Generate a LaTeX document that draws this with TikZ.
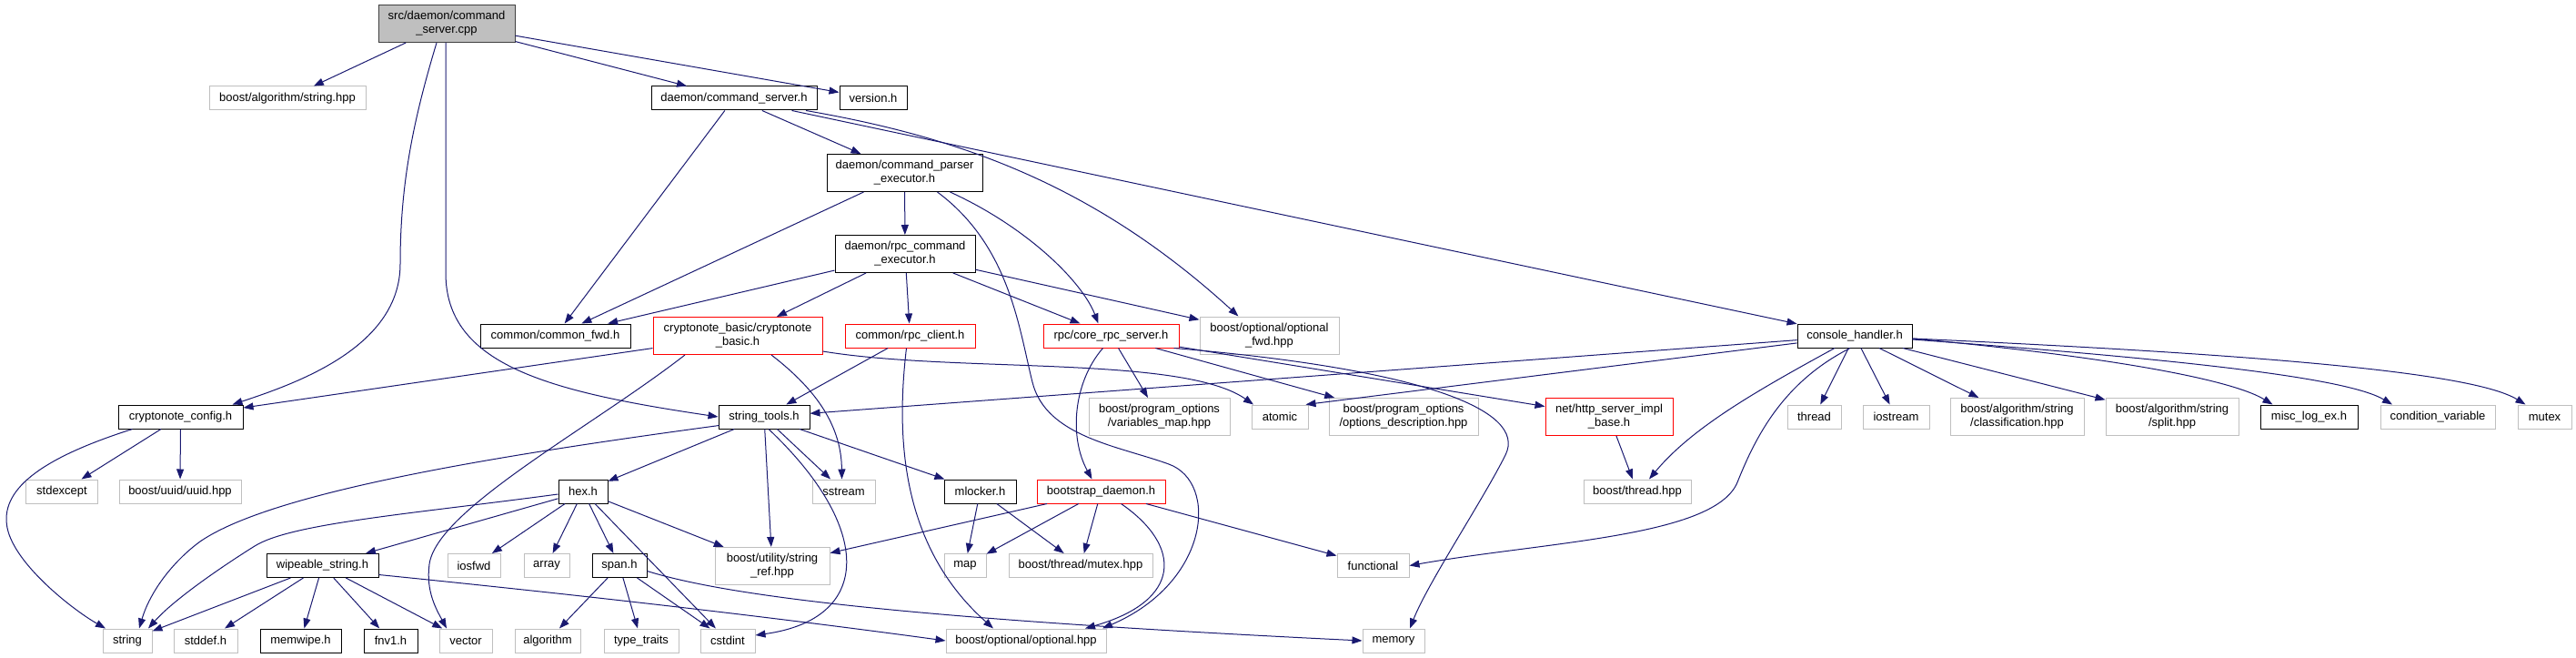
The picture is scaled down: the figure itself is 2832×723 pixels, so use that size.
\documentclass[tikz,border=0pt]{standalone}
\usepackage{fontspec}
\setmainfont{Liberation Sans}
\usetikzlibrary{arrows.meta}
\definecolor{edgeblue}{HTML}{191970}
\definecolor{sysgray}{HTML}{BFBFBF}
\definecolor{rootline}{HTML}{404040}

\begin{document}
\begin{tikzpicture}[x=1bp, y=-1bp, >={Triangle[length=11bp,width=8bp]},
    hdr/.style={draw=black, line width=1bp, fill=white, inner sep=0pt, minimum height=26bp, align=center, font=\fontsize{13bp}{15bp}\selectfont},
    syshdr/.style={hdr, draw=sysgray},
    trunchdr/.style={hdr, draw=red},
    roothdr/.style={hdr, fill=sysgray, draw=rootline},
    twoline/.style={minimum height=41bp},
    dep/.style={->, draw=edgeblue, line width=1bp}]
    \useasboundingbox (0,0) rectangle (2832,723);

    % Root file and its direct includes
    \node[roothdr, twoline, minimum width=150bp] (root) at (491,26) {src/daemon/command\\\_server.cpp};
    \node[syshdr, minimum width=172bp] (boostalgo) at (316,108) {boost/algorithm/string.hpp};
    \node[hdr, minimum width=182bp] (cmdserver) at (807,108) {daemon/command\_server.h};
    \node[hdr, minimum width=74bp] (version) at (960,108) {version.h};

    % Daemon executors
    \node[hdr, twoline, minimum width=171bp] (parser) at (994.5,190) {daemon/command\_parser\\\_executor.h};
    \node[hdr, twoline, minimum width=154bp] (rpccmd) at (995,279) {daemon/rpc\_command\\\_executor.h};

    % Fourth row
    \node[hdr, minimum width=165bp] (commonfwd) at (610.5,369) {common/common\_fwd.h};
    \node[trunchdr, twoline, minimum width=186bp] (cnbasic) at (811,369) {cryptonote\_basic/cryptonote\\\_basic.h};
    \node[trunchdr, minimum width=143bp] (rpcclient) at (1000.5,369) {common/rpc\_client.h};
    \node[trunchdr, minimum width=149bp] (corerpc) at (1221.5,369) {rpc/core\_rpc\_server.h};
    \node[syshdr, twoline, minimum width=153bp] (optfwd) at (1395.5,368.5) {boost/optional/optional\\\_fwd.hpp};
    \node[hdr, minimum width=126bp] (consolehandler) at (2039,369) {console\_handler.h};

    % Fifth row
    \node[hdr, minimum width=137bp] (cnconfig) at (198.5,458) {cryptonote\_config.h};
    \node[hdr, minimum width=100bp] (stringtools) at (840,458) {string\_tools.h};
    \node[syshdr, twoline, minimum width=155bp] (varmap) at (1274.5,458) {boost/program\_options\\/variables\_map.hpp};
    \node[syshdr, minimum width=62bp] (atomic) at (1407,458) {atomic};
    \node[syshdr, twoline, minimum width=164bp] (optdesc) at (1543,458) {boost/program\_options\\/options\_description.hpp};
    \node[trunchdr, twoline, minimum width=140bp] (httpserver) at (1769,458) {net/http\_server\_impl\\\_base.h};
    \node[syshdr, minimum width=59bp] (thread) at (1994.5,458) {thread};
    \node[syshdr, minimum width=73bp] (iostream) at (2084.5,458) {iostream};
    \node[syshdr, twoline, minimum width=147bp] (classif) at (2217.5,458) {boost/algorithm/string\\/classification.hpp};
    \node[syshdr, twoline, minimum width=146bp] (split) at (2388,458) {boost/algorithm/string\\/split.hpp};
    \node[hdr, minimum width=107bp] (misclog) at (2538.5,458) {misc\_log\_ex.h};
    \node[syshdr, minimum width=126bp] (condvar) at (2680,458) {condition\_variable};
    \node[syshdr, minimum width=59bp] (mutex) at (2797.5,458) {mutex};

    % Sixth row
    \node[syshdr, minimum width=78bp] (stdexcept) at (68,540) {stdexcept};
    \node[syshdr, minimum width=134bp] (uuid) at (198,540) {boost/uuid/uuid.hpp};
    \node[hdr, minimum width=54bp] (hex) at (641,540) {hex.h};
    \node[syshdr, minimum width=69bp] (sstream) at (927.5,540) {sstream};
    \node[hdr, minimum width=79bp] (mlocker) at (1077.5,540) {mlocker.h};
    \node[trunchdr, minimum width=141bp] (bootstrap) at (1210.5,540) {bootstrap\_daemon.h};
    \node[syshdr, minimum width=118bp] (boostthread) at (1800,540) {boost/thread.hpp};

    % Seventh row
    \node[hdr, minimum width=123bp] (wipeable) at (354.5,621.5) {wipeable\_string.h};
    \node[syshdr, minimum width=58bp] (iosfwd) at (521,621.5) {iosfwd};
    \node[syshdr, minimum width=50bp] (array) at (601,621.5) {array};
    \node[hdr, minimum width=60bp] (span) at (681,621.5) {span.h};
    \node[syshdr, twoline, minimum width=126bp] (stringref) at (849,622) {boost/utility/string\\\_ref.hpp};
    \node[syshdr, minimum width=46bp] (map) at (1061,621.5) {map};
    \node[syshdr, minimum width=158bp] (mutexhpp) at (1188,621.5) {boost/thread/mutex.hpp};
    \node[syshdr, minimum width=79bp] (functional) at (1509.5,621.5) {functional};

    % Bottom row
    \node[syshdr, minimum width=54bp] (string) at (140,704) {string};
    \node[syshdr, minimum width=70bp] (stddef) at (226,704) {stddef.h};
    \node[hdr, minimum width=89bp] (memwipe) at (330.5,704) {memwipe.h};
    \node[hdr, minimum width=59bp] (fnv1) at (429.5,704) {fnv1.h};
    \node[syshdr, minimum width=58bp] (vector) at (512,704) {vector};
    \node[syshdr, minimum width=72bp] (algorithm) at (602,704) {algorithm};
    \node[syshdr, minimum width=82bp] (typetraits) at (705,704) {type\_traits};
    \node[syshdr, minimum width=60bp] (cstdint) at (800,704) {cstdint};
    \node[syshdr, minimum width=176bp] (optional) at (1128,704) {boost/optional/optional.hpp};
    \node[syshdr, minimum width=68bp] (memory) at (1532,704) {memory};

    % Includes of the root file
    \draw[dep] (root) -- (boostalgo);
    \draw[dep] (root) -- (cmdserver);
    \draw[dep] (root) -- (version);
    \draw[dep] ([xshift=-11bp]root.south) .. controls (455,130) and (440,200) .. (440,290) .. controls (440,380) and (330,420) .. ([xshift=57bp]cnconfig.north);
    \draw[dep] ([xshift=-1bp]root.south) -- (490,300) .. controls (490,400) and (600,430) .. (stringtools.west);

    % daemon/command_server.h
    \draw[dep] (cmdserver) -- (commonfwd);
    \draw[dep] (cmdserver) -- (parser);
    \draw[dep] ([xshift=79bp]cmdserver.south) .. controls (1050,150) and (1200,200) .. ([xshift=-34bp]optfwd.north);
    \draw[dep] (cmdserver) -- (consolehandler);

    % daemon/command_parser_executor.h
    \draw[dep] (parser) -- (commonfwd);
    \draw[dep] (parser) -- (rpccmd);
    \draw[dep] ([xshift=50bp]parser.south) .. controls (1130,250) and (1190,310) .. ([xshift=-14bp]corerpc.north);
    \draw[dep] ([xshift=36bp]parser.south) .. controls (1110,270) and (1120,360) .. (1135,420) .. controls (1150,480) and (1230,490) .. (1285,510) .. controls (1340,530) and (1330,640) .. ([xshift=84bp]optional.north);

    % daemon/rpc_command_executor.h
    \draw[dep] (rpccmd) -- (commonfwd);
    \draw[dep] (rpccmd) -- (cnbasic);
    \draw[dep] (rpccmd) -- (rpcclient);
    \draw[dep] (rpccmd) -- (corerpc);
    \draw[dep] (rpccmd) -- (optfwd);

    % cryptonote_basic/cryptonote_basic.h
    \draw[dep] (cnbasic) -- (cnconfig);
    \draw[dep] ([xshift=-58bp]cnbasic.south) .. controls (650,470) and (480,560) .. (472,620) .. controls (468,650) and (480,670) .. ([xshift=-21bp]vector.north);
    \draw[dep] ([xshift=37bp]cnbasic.south) .. controls (900,430) and (925,470) .. ([xshift=-2bp]sstream.north);
    \draw[dep] ([yshift=-17bp]cnbasic.east) .. controls (1050,410) and (1300,390) .. ([xshift=-29bp]atomic.north);

    % common/rpc_client.h
    \draw[dep] (rpcclient) -- (stringtools);
    \draw[dep] ([xshift=-4bp]rpcclient.south) .. controls (985,480) and (990,600) .. ([xshift=-36bp]optional.north);

    % rpc/core_rpc_server.h
    \draw[dep] ([xshift=-9bp]corerpc.south) .. controls (1180,420) and (1175,480) .. ([xshift=-10bp]bootstrap.north);
    \draw[dep] (corerpc) -- (varmap);
    \draw[dep] (corerpc) -- (optdesc);
    \draw[dep] (corerpc) -- (httpserver);
    \draw[dep] ([xshift=-6bp]corerpc.south east) .. controls (1560,405) and (1680,450) .. (1655,500) .. controls (1630,550) and (1570,640) .. ([xshift=18bp]memory.north);

    % bootstrap_daemon.h and mlocker.h
    \draw[dep] (bootstrap) -- (stringref);
    \draw[dep] (bootstrap) -- (map);
    \draw[dep] (bootstrap) -- (mutexhpp);
    \draw[dep] ([xshift=22bp]bootstrap.south) .. controls (1300,600) and (1300,660) .. ([xshift=65bp]optional.north);
    \draw[dep] (bootstrap) -- (functional);
    \draw[dep] (mlocker) -- (map);
    \draw[dep] (mlocker) -- (mutexhpp);
    \draw[dep] (httpserver) -- (boostthread);

    % console_handler.h
    \draw[dep] (consolehandler) -- (stringtools);
    \draw[dep] (consolehandler) -- ([xshift=-3bp]atomic.north east);
    \draw[dep] (consolehandler) -- (thread);
    \draw[dep] (consolehandler) -- (iostream);
    \draw[dep] (consolehandler) -- (classif);
    \draw[dep] (consolehandler) -- (split);
    \draw[dep] ([yshift=-3bp]consolehandler.east) .. controls (2300,390) and (2450,415) .. ([xshift=-40bp]misclog.north);
    \draw[dep] ([yshift=-4bp]consolehandler.east) .. controls (2400,395) and (2580,415) .. ([xshift=-50bp]condvar.north);
    \draw[dep] ([yshift=-3bp]consolehandler.east) .. controls (2500,390) and (2720,410) .. ([xshift=-21bp]mutex.north);
    \draw[dep] ([xshift=-22bp]consolehandler.south) .. controls (1930,430) and (1860,470) .. ([xshift=13bp]boostthread.north);
    \draw[dep] ([xshift=-5bp]consolehandler.south) .. controls (1960,420) and (1930,480) .. (1910,530) .. controls (1885,590) and (1700,595) .. (functional.east);

    % string_tools.h
    \draw[dep] ([xshift=1bp, yshift=4bp]stringtools.south west) .. controls (550,500) and (300,540) .. (220,595) .. controls (190,617) and (165,650) .. ([xshift=13bp]string.north);
    \draw[dep] (stringtools) -- (hex);
    \draw[dep] (stringtools) -- (stringref);
    \draw[dep] (stringtools) -- (sstream);
    \draw[dep] (stringtools) -- (mlocker);
    \draw[dep] ([xshift=5bp]stringtools.south) .. controls (960,580) and (960,680) .. ([yshift=6bp]cstdint.east);

    % cryptonote_config.h
    \draw[dep] ([xshift=-53bp]cnconfig.south) .. controls (40,505) and (0,540) .. (8,580) .. controls (16,620) and (80,670) .. ([xshift=-24bp]string.north);
    \draw[dep] (cnconfig) -- (stdexcept);
    \draw[dep] (cnconfig) -- (uuid);

    % hex.h
    \draw[dep] ([yshift=-3bp]hex.west) .. controls (450,565) and (320,575) .. (280,600) .. controls (240,625) and (190,660) .. ([xshift=23bp]string.north);
    \draw[dep] (hex) -- (wipeable);
    \draw[dep] (hex) -- (iosfwd);
    \draw[dep] (hex) -- (array);
    \draw[dep] (hex) -- (span);
    \draw[dep] (hex) -- (cstdint);
    \draw[dep] (hex) -- (stringref);

    % wipeable_string.h
    \draw[dep] (wipeable) -- (string);
    \draw[dep] (wipeable) -- (stddef);
    \draw[dep] (wipeable) -- (memwipe);
    \draw[dep] (wipeable) -- (fnv1);
    \draw[dep] (wipeable) -- (vector);
    \draw[dep] ([yshift=-10bp]wipeable.east) .. controls (700,660) and (900,685) .. (optional.west);

    % span.h
    \draw[dep] (span) -- (algorithm);
    \draw[dep] (span) -- (typetraits);
    \draw[dep] (span) -- (cstdint);
    \draw[dep] ([yshift=-6bp]span.east) .. controls (800,655) and (1000,680) .. (memory.west);
\end{tikzpicture}
\end{document}
